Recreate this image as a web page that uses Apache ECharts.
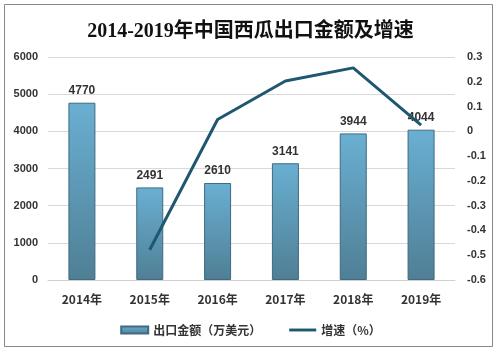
<!DOCTYPE html>
<html>
<head>
<meta charset="utf-8">
<script src="https://cdn.jsdelivr.net/npm/echarts@6/dist/echarts.min.js"></script>
<style>
html,body{margin:0;padding:0;background:#fff;}
#main{width:501px;height:354px;}
</style>
</head>
<body>
<div id="main"></div>
<script>
// 年份 / 出口金额 / 增速
var years = ['2014年', '2015年', '2016年', '2017年', '2018年', '2019年'];
var amounts = [4770, 2491, 2610, 3141, 3944, 4044];
var growth = [null, -0.478, 0.048, 0.203, 0.256, 0.025];

var chart = echarts.init(document.getElementById('main'));

var barColor = new echarts.graphic.LinearGradient(0, 0, 0, 1, [
	{ offset: 0, color: '#6aafd2' },
	{ offset: 1, color: '#4f7f95' }
]);

var option = {
	backgroundColor: '#fff',
	title: {
		text: '2014-2019年中国西瓜出口金额及增速',
		left: 'center',
		top: 17,
		textStyle: {
			fontFamily: 'Liberation Serif, Noto Sans CJK SC',
			fontSize: 20,
			fontWeight: 'bold',
			color: '#111'
		}
	},
	graphic: [{
		type: 'rect',
		shape: { x: 4.5, y: 4.5, width: 488, height: 342 },
		style: { fill: 'none', stroke: '#888', lineWidth: 1 },
		silent: true
	}],
	legend: {
		bottom: 13,
		left: 'center',
		itemGap: 28,
		itemWidth: 27,
		itemHeight: 7,
		textStyle: { fontSize: 12, fontWeight: 'bold', color: '#333', fontFamily: 'Noto Sans CJK SC' },
		data: [
			{ name: '出口金额（万美元）', icon: 'rect' },
			{ name: '增速（%）', icon: 'path://M0,0H28V3H0Z', itemStyle: { color: '#1d5870' } }
		]
	},
	grid: {
		left: 48,
		right: 46,
		top: 57,
		bottom: 74
	},
	xAxis: {
		type: 'category',
		data: years,
		axisTick: { show: false },
		axisLine: { lineStyle: { color: '#d0d0d0' } },
		axisLabel: { fontSize: 12, fontWeight: 'bold', color: '#333', margin: 13, fontFamily: 'Noto Sans CJK SC' }
	},
	yAxis: [{
		type: 'value',
		min: 0,
		max: 6000,
		interval: 1000,
		axisLine: { show: false },
		axisTick: { show: false },
		splitLine: { lineStyle: { color: '#d9d9d9' } },
		axisLabel: {
			fontSize: 11, fontWeight: 'bold', color: '#333', margin: 10,
			formatter: function (v) { return v + ''; }
		}
	}, {
		type: 'value',
		min: -0.6,
		max: 0.3,
		interval: 0.1,
		axisLine: { show: false },
		axisTick: { show: false },
		splitLine: { show: false },
		axisLabel: {
			fontSize: 11, fontWeight: 'bold', color: '#333', margin: 12,
			formatter: function (v) { return Math.round(v * 10) / 10 + ''; }
		}
	}],
	series: [{
		name: '出口金额（万美元）',
		type: 'bar',
		data: amounts,
		barWidth: 27,
		itemStyle: { color: barColor, borderColor: '#3f6a80', borderWidth: 1 },
		label: {
			show: true,
			position: 'top',
			distance: 6,
			fontSize: 12,
			fontWeight: 'bold',
			color: '#333'
		}
	}, {
		name: '增速（%）',
		type: 'line',
		yAxisIndex: 1,
		data: growth,
		showSymbol: false,
		symbol: 'none',
		lineStyle: { color: '#1d5870', width: 3 },
		itemStyle: { color: '#1d5870' }
	}]
};

chart.setOption(option);
</script>
</body>
</html>
